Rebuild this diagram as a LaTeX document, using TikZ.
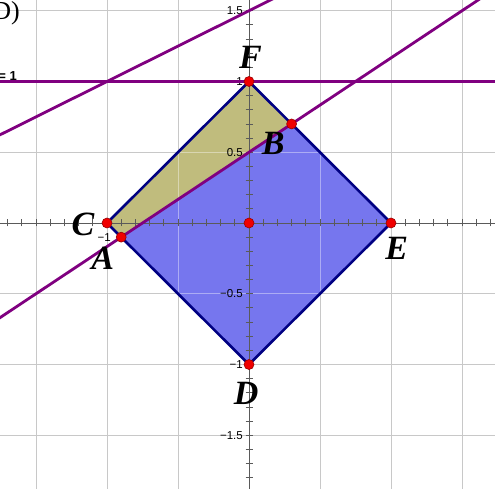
\documentclass[tikz,border=0pt]{standalone}
\usepackage{fontspec}
\setmainfont{Liberation Serif}
\setsansfont{Liberation Sans}
\definecolor{sqblue}{RGB}{118,118,238}
\definecolor{kfill}{RGB}{192,188,125}
\definecolor{edgecol}{RGB}{0,0,130}
\definecolor{purp}{RGB}{128,0,128}
\definecolor{gridcol}{RGB}{200,200,200}
\definecolor{axiscol}{RGB}{90,90,90}
\definecolor{ptred}{RGB}{240,0,0}
\tikzset{
  gline/.style={gridcol, line width=0.9pt},
  gover/.style={white, opacity=0.4, line width=0.9pt},
  axisline/.style={axiscol, line width=0.9pt},
  tickmark/.style={axiscol, line width=0.8pt},
  pline/.style={purp, line width=2.8pt},
  sqedge/.style={edgecol, line width=2.6pt, line join=round},
  pt/.style={circle, fill=ptred, draw=red!60!black, line width=0.6pt, inner sep=0pt, minimum size=10pt},
  ptlabel/.style={font=\fontsize{34}{34}\selectfont\bfseries\itshape, inner sep=0pt, anchor=base},
  numlabel/.style={font=\sffamily\fontsize{11.5}{12}\selectfont, inner sep=0pt}
}
\begin{document}
\begin{tikzpicture}[x=142pt,y=141.5pt]
\useasboundingbox (-249pt,-266pt) rectangle (246pt,223pt);
\begin{scope}
\clip (-249pt,-266pt) rectangle (246pt,223pt);
\fill[white] (-249pt,-266pt) rectangle (246pt,223pt);
% grid
\foreach \g in {-1.5,-1,-0.5,0.5,1,1.5} {
  \draw[gline] (\g,-2) -- (\g,2);
  \draw[gline] (-2,\g) -- (2,\g);
}
% coordinates
\coordinate (C) at (-1,0);
\coordinate (F) at (0,1);
\coordinate (E) at (1,0);
\coordinate (D) at (0,-1);
\coordinate (B) at (0.3,0.7);
\coordinate (A) at (-0.9,-0.1);
\coordinate (O) at (0,0);
% fills
\fill[sqblue] (C) -- (F) -- (E) -- (D) -- cycle;
\fill[kfill] (C) -- (F) -- (B) -- (A) -- cycle;
\begin{scope}
\clip (C) -- (F) -- (E) -- (D) -- cycle;
\foreach \g in {-0.5,0.5} {
  \draw[gover] (\g,-2) -- (\g,2);
  \draw[gover] (-2,\g) -- (2,\g);
}
\end{scope}
% axes
\draw[axisline] (-2,0) -- (2,0);
\draw[axisline] (0,-2) -- (0,2);
\foreach \t in {-17,...,17} {
  \draw[tickmark] (\t/10,0) ++(0,-3.5pt) -- ++(0,7pt);
}
\foreach \t in {-19,...,16} {
  \draw[tickmark] (0,\t/10) ++(-3.5pt,0) -- ++(7pt,0);
}
% axis numbers
\node[numlabel, anchor=east] at (-6pt,1.5) {1.5};
\node[numlabel, anchor=east] at (-6pt,1) {1};
\node[numlabel, anchor=east] at (-6pt,0.5) {0.5};
\node[numlabel, anchor=east] at (-6pt,-0.5) {−0.5};
\node[numlabel, anchor=east] at (-6pt,-1) {−1};
\node[numlabel, anchor=east] at (-6pt,-1.5) {−1.5};
\node[numlabel] (xm1) at (-1.02,-0.1) {−1};
% purple lines
\coordinate (L1a) at (-2,1); \coordinate (L1b) at (2,1);
\coordinate (L2a) at (-2,-0.8333); \coordinate (L2b) at (2,1.8333);
\coordinate (L3a) at (-2,0.5); \coordinate (L3b) at (1,2);
\draw[pline] (L1a) -- (L1b);
\draw[pline] (L2a) -- (L2b);
\draw[pline] (L3a) -- (L3b);
% square edges
\draw[sqedge] (C) -- (F) -- (E) -- (D) -- cycle;
% points
\node[pt] (pC) at (C) {};
\node[pt] (pF) at (F) {};
\node[pt] (pE) at (E) {};
\node[pt] (pD) at (D) {};
\node[pt] (pB) at (B) {};
\node[pt] (pA) at (A) {};
\node[pt] (pO) at (O) {};
% labels
\node[ptlabel] (lF) at (0.01,1.095) {F};
\node[ptlabel] (lB) at (0.17,0.481) {B};
\node[ptlabel] (lC) at (-1.17,-0.085) {C};
\node[ptlabel] (lA) at (-1.03,-0.332) {A};
\node[ptlabel] (lE) at (1.04,-0.261) {E};
\node[ptlabel] (lD) at (-0.02,-1.286) {D};
% clipped texts at left
\node[font=\fontsize{26}{26}\selectfont, inner sep=0pt, anchor=base east] (tD) at (-1.613,1.435) {D)};
\node[font=\sffamily\bfseries\fontsize{13}{13}\selectfont, inner sep=0pt, anchor=base east] (ty) at (-1.634,1.004) {y = 1};
\end{scope}
\end{tikzpicture}
\end{document}
